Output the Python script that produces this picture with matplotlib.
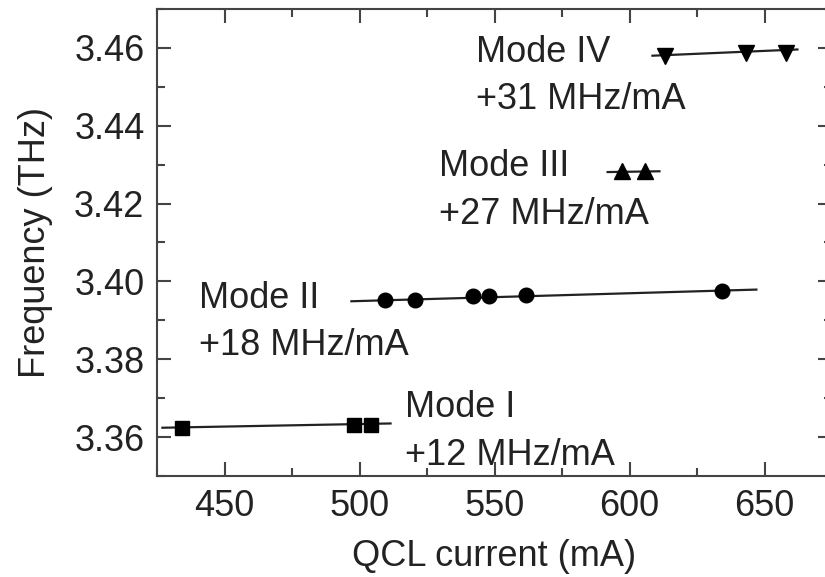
import matplotlib.pyplot as plt
from matplotlib.ticker import MultipleLocator

plt.rcParams['font.family'] = ['Liberation Sans', 'DejaVu Sans']

# measured points (current in mA, frequency in THz)
mode1_i = [434.4, 497.8, 504.1]
mode1_f = [3.3624, 3.3630, 3.3630]
mode2_i = [509.6, 520.4, 541.9, 548.1, 561.5, 634.1]
mode2_f = [3.3952, 3.3952, 3.3962, 3.3962, 3.3965, 3.3975]
mode3_i = [597.4, 605.6]
mode3_f = [3.4283, 3.4283]
mode4_i = [613.0, 643.3, 658.1]
mode4_f = [3.4578, 3.4586, 3.4588]

# linear fit end points
fit1_i, fit1_f = [427.0, 511.5], [3.3624, 3.3635]
fit2_i, fit2_f = [497.0, 647.0], [3.3949, 3.3979]
fit3_i, fit3_f = [591.9, 611.1], [3.4281, 3.4283]
fit4_i, fit4_f = [608.5, 662.2], [3.4580, 3.4596]

labels = ['Mode I\n+12 MHz/mA', 'Mode II\n+18 MHz/mA',
          'Mode III\n+27 MHz/mA', 'Mode IV\n+31 MHz/mA']

fig = plt.figure(figsize=(8.25, 5.77), dpi=100)
ax = fig.add_axes([157 / 825, 1 - 476 / 577, (832 - 157) / 825, (476 - 9) / 577])

line_kw = dict(color='#222222', lw=1.6, zorder=2)
ax.plot(fit1_i, fit1_f, **line_kw)
ax.plot(fit2_i, fit2_f, **line_kw)
ax.plot(fit3_i, fit3_f, **line_kw)
ax.plot(fit4_i, fit4_f, **line_kw)

ax.plot(mode1_i, mode1_f, 's', color='black', ms=10, zorder=3)
ax.plot(mode2_i, mode2_f, 'o', color='black', ms=10.5, zorder=3)
ax.plot(mode3_i, mode3_f, '^', color='black', ms=11, zorder=3)
ax.plot(mode4_i, mode4_f, 'v', color='black', ms=11, zorder=3)

fs = 26
tc = '#222222'
txt_kw = dict(fontsize=fs, color=tc, va='center', linespacing=1.47)
ax.text(516.7, 3.3614, labels[0], **txt_kw)
ax.text(440.7, 3.3896, labels[1], **txt_kw)
ax.text(529.6, 3.4234, labels[2], **txt_kw)
ax.text(543.3, 3.4528, labels[3], **txt_kw)

ax.set_xlim(425, 675)
ax.set_ylim(3.35, 3.47)
ax.xaxis.set_major_locator(MultipleLocator(50))
ax.xaxis.set_minor_locator(MultipleLocator(25))
ax.yaxis.set_major_locator(MultipleLocator(0.02))
ax.yaxis.set_minor_locator(MultipleLocator(0.01))
ax.yaxis.set_major_formatter(plt.FormatStrFormatter('%.2f'))

ax.tick_params(which='both', direction='in', top=True, right=True,
               color='#444444', width=1.5, labelsize=26, labelcolor=tc, pad=9)
ax.tick_params(which='major', length=10)
ax.tick_params(which='minor', length=6)
for s in ax.spines.values():
    s.set_color('#444444')
    s.set_linewidth(1.5)

ax.set_xlabel('QCL current (mA)', fontsize=26, color=tc, labelpad=11)
ax.set_ylabel('Frequency (THz)', fontsize=26, color=tc, labelpad=15)

fig.savefig('out.png', dpi=100)
